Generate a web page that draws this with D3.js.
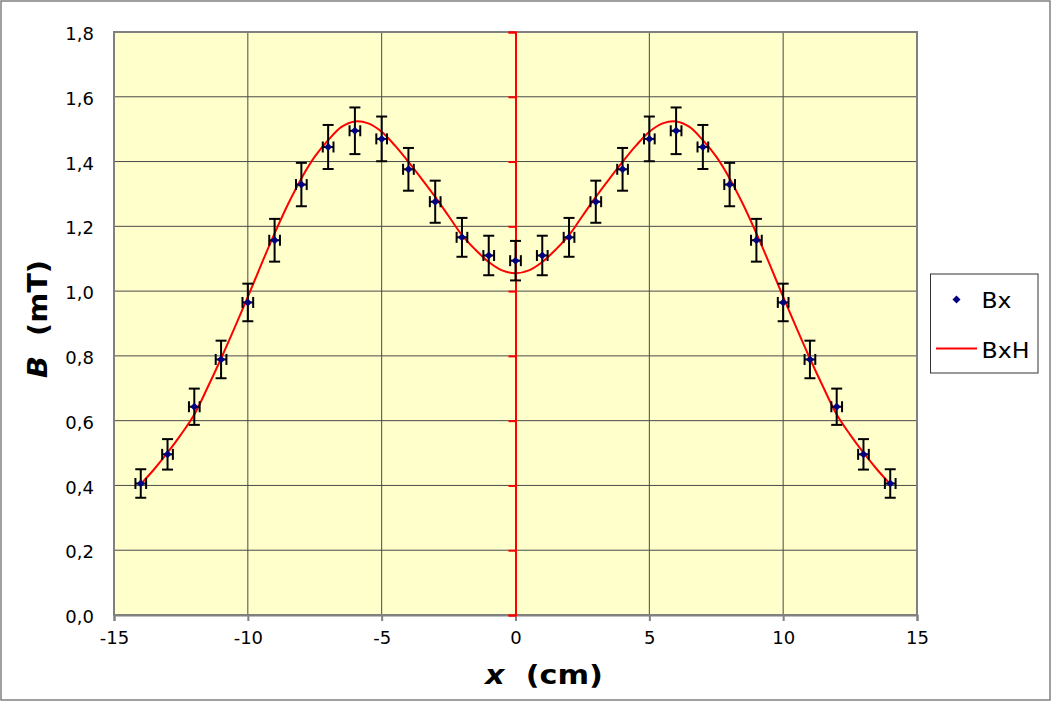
<!DOCTYPE html>
<html>
<head>
<meta charset="utf-8">
<script src="https://cdn.jsdelivr.net/npm/d3@7/dist/d3.min.js"></script>
<style>
  html, body { margin: 0; padding: 0; background: #fff; }
  svg { display: block; }
</style>
</head>
<body>
<script>
// ---- data ----
const xPos = [-14,-13,-12,-11,-10,-9,-8,-7,-6,-5,-4,-3,-2,-1,0,1,2,3,4,5,6,7,8,9,10,11,12,13,14];
const bxValues = [0.406,0.496,0.643,0.789,0.965,1.157,1.329,1.445,1.495,1.470,1.376,1.276,1.166,1.110,1.094,
                  1.110,1.166,1.276,1.376,1.470,1.495,1.445,1.329,1.157,0.965,0.789,0.643,0.496,0.406];
const bxErrY = [0.044,0.047,0.056,0.058,0.058,0.066,0.067,0.068,0.072,0.069,0.066,0.065,0.060,0.061,0.061,
                0.061,0.060,0.065,0.066,0.069,0.072,0.068,0.067,0.066,0.058,0.058,0.056,0.047,0.044];
const bxErrX = [0.2,0.2,0.2,0.2,0.2,0.2,0.2,0.2,0.2,0.2,0.2,0.2,0.2,0.2,0.2,
                0.2,0.2,0.2,0.2,0.2,0.2,0.2,0.2,0.2,0.2,0.2,0.2,0.2,0.2];
const curveX = [-14,-13.5,-13,-12.5,-12,-11.5,-11,-10.5,-10,-9.5,-9,-8.5,-8,-7.5,-7,-6.5,-6,-5.5,-5,-4.5,-4,-3.5,-3,-2.5,-2,-1.5,-1,-0.5,
                0,0.5,1,1.5,2,2.5,3,3.5,4,4.5,5,5.5,6,6.5,7,7.5,8,8.5,9,9.5,10,10.5,11,11.5,12,12.5,13,13.5,14];
const bxhValues = [0.404,0.450,0.501,0.557,0.619,0.703,0.792,0.886,0.982,1.082,1.178,1.268,1.348,1.415,1.466,1.507,1.524,1.518,1.492,1.449,1.399,1.346,1.291,1.232,1.173,1.128,1.090,1.064,
                   1.055,1.064,1.090,1.128,1.173,1.232,1.291,1.346,1.399,1.449,1.492,1.518,1.524,1.507,1.466,1.415,1.348,1.268,1.178,1.082,0.982,0.886,0.792,0.703,0.619,0.557,0.501,0.450,0.404];
const yTicks = [0,0.2,0.4,0.6,0.8,1.0,1.2,1.4,1.6,1.8];
const xTicks = [-15,-10,-5,0,5,10,15];
const legendLabels = ["Bx","BxH"];

// ---- layout ----
const W = 1052, H = 702;
const P = {left:114, top:32, right:917, bottom:615};

const svg = d3.select("body").append("svg").attr("width", W).attr("height", H);
svg.append("rect").attr("x",0).attr("y",0).attr("width",W).attr("height",H).attr("fill","#fff");
svg.append("rect").attr("x",1).attr("y",1).attr("width",W-3).attr("height",H-3)
   .attr("fill","none").attr("stroke","#808080").attr("stroke-width",1.5);

const x = d3.scaleLinear().domain([-15,15]).range([P.left,P.right]);
const y = d3.scaleLinear().domain([0,1.8]).range([P.bottom,P.top]);

// plot background
svg.append("rect").attr("x",P.left).attr("y",P.top).attr("width",P.right-P.left).attr("height",P.bottom-P.top)
   .attr("fill","#FFFFCC");

// gridlines
const grid = svg.append("g").attr("stroke","#4a4a4a").attr("stroke-width",1);
grid.selectAll("line.h").data(yTicks.filter(d=>d>0)).enter().append("line")
  .attr("x1",P.left).attr("x2",P.right).attr("y1",d=>y(d)).attr("y2",d=>y(d));
grid.selectAll("line.v").data(xTicks.filter(d=>d!==0 && Math.abs(d)!==15)).enter().append("line")
  .attr("y1",P.top).attr("y2",P.bottom).attr("x1",d=>x(d)).attr("x2",d=>x(d));

// plot border
svg.append("rect").attr("x",P.left).attr("y",P.top).attr("width",P.right-P.left).attr("height",P.bottom-P.top)
   .attr("fill","none").attr("stroke","#808080").attr("stroke-width",2);

// bottom axis
const xAxis = d3.axisBottom(x).tickValues(xTicks).tickSize(6).tickPadding(10).tickFormat(d3.format("d"));
const gx = svg.append("g").attr("transform",`translate(0,${P.bottom})`).call(xAxis);
gx.select(".domain").attr("stroke","#808080").attr("stroke-width",2);
gx.selectAll(".tick line").attr("stroke","#808080").attr("stroke-width",2);
gx.selectAll(".tick text").attr("font-family","'DejaVu Sans', Verdana, sans-serif").attr("font-size",18)
  .attr("fill","#000").text(d=>String(d).replace("\u2212","-"));

// y labels (left)
const yAxis = d3.axisLeft(y).tickValues(yTicks).tickSize(0).tickPadding(20)
  .tickFormat(d=>d3.format(".1f")(d).replace(".",","));
const gy = svg.append("g").attr("transform",`translate(${P.left},0)`).call(yAxis);
gy.select(".domain").remove();
gy.selectAll(".tick text").attr("font-family","'DejaVu Sans', Verdana, sans-serif").attr("font-size",18)
  .attr("fill","#000").attr("dy","0.42em");

// red axis at x=0
const gr = svg.append("g").attr("transform",`translate(${x(0)},0)`)
  .call(d3.axisLeft(y).tickValues(yTicks).tickSize(7).tickFormat(""));
gr.select(".domain").attr("stroke","#FF0000").attr("stroke-width",2);
gr.selectAll(".tick line").attr("stroke","#FF0000").attr("stroke-width",2);

// curve
const line = d3.line().x((d,i)=>x(curveX[i])).y(d=>y(d)).curve(d3.curveCatmullRom.alpha(0.5));
svg.append("path").datum(bxhValues).attr("d",line).attr("fill","none")
  .attr("stroke","#FF0000").attr("stroke-width",2);

// error bars
const eb = svg.append("g").attr("stroke","#000").attr("stroke-width",2).attr("fill","none");
const cap = 5.5;
xPos.forEach((xv,i)=>{
  const v = bxValues[i], ey = bxErrY[i], ex = bxErrX[i];
  const cx = x(xv), cy = y(v);
  const yt = y(v+ey), yb = y(v-ey);
  const xl = x(xv-ex), xr = x(xv+ex);
  eb.append("line").attr("x1",cx).attr("x2",cx).attr("y1",yt).attr("y2",yb);
  eb.append("line").attr("x1",cx-cap).attr("x2",cx+cap).attr("y1",yt).attr("y2",yt);
  eb.append("line").attr("x1",cx-cap).attr("x2",cx+cap).attr("y1",yb).attr("y2",yb);
  eb.append("line").attr("x1",xl).attr("x2",xr).attr("y1",cy).attr("y2",cy);
  eb.append("line").attr("x1",xl).attr("x2",xl).attr("y1",cy-cap).attr("y2",cy+cap);
  eb.append("line").attr("x1",xr).attr("x2",xr).attr("y1",cy-cap).attr("y2",cy+cap);
});

// markers
const dia = r => `M0,${-r}L${r},0L0,${r}L${-r},0Z`;
svg.append("g").selectAll("path").data(bxValues).enter().append("path")
  .attr("d",dia(4)).attr("fill","#000080")
  .attr("transform",(d,i)=>`translate(${x(xPos[i])},${y(d)})`);

// axis titles
const xt = svg.append("text").attr("x",485).attr("y",684)
  .attr("font-family","'DejaVu Sans', Verdana, sans-serif").attr("font-size",26).attr("font-weight","bold")
  .attr("xml:space","preserve").attr("textLength",118).attr("lengthAdjust","spacingAndGlyphs");
xt.append("tspan").attr("font-style","italic").text("x");
xt.append("tspan").text("  (cm)");

const yt = svg.append("text").attr("transform","translate(47,260) rotate(-90)").attr("text-anchor","end")
  .attr("font-family","'DejaVu Sans', Verdana, sans-serif").attr("font-size",26).attr("font-weight","bold")
  .attr("xml:space","preserve").attr("x",-118).attr("textLength",118).attr("lengthAdjust","spacingAndGlyphs")
  .attr("text-anchor","start");
yt.append("tspan").attr("font-style","italic").text("B");
yt.append("tspan").text("  (mT)");

// legend
const lg = svg.append("g");
lg.append("rect").attr("x",930.5).attr("y",274).attr("width",107.5).attr("height",99)
  .attr("fill","#fff").attr("stroke","#333").attr("stroke-width",1);
lg.append("path").attr("d",dia(4)).attr("fill","#000080").attr("transform","translate(956.5,299.5)");
lg.append("line").attr("x1",936).attr("x2",977).attr("y1",348.5).attr("y2",348.5)
  .attr("stroke","#FF0000").attr("stroke-width",2);
const legLens = [30,48];
lg.selectAll("text").data(legendLabels).enter().append("text")
  .attr("x",981.5).attr("y",(d,i)=>i===0?308:358)
  .attr("font-family","'DejaVu Sans', Verdana, sans-serif").attr("font-size",21).attr("fill","#000")
  .attr("textLength",(d,i)=>legLens[i]).attr("lengthAdjust","spacingAndGlyphs")
  .text(d=>d);
</script>
</body>
</html>
